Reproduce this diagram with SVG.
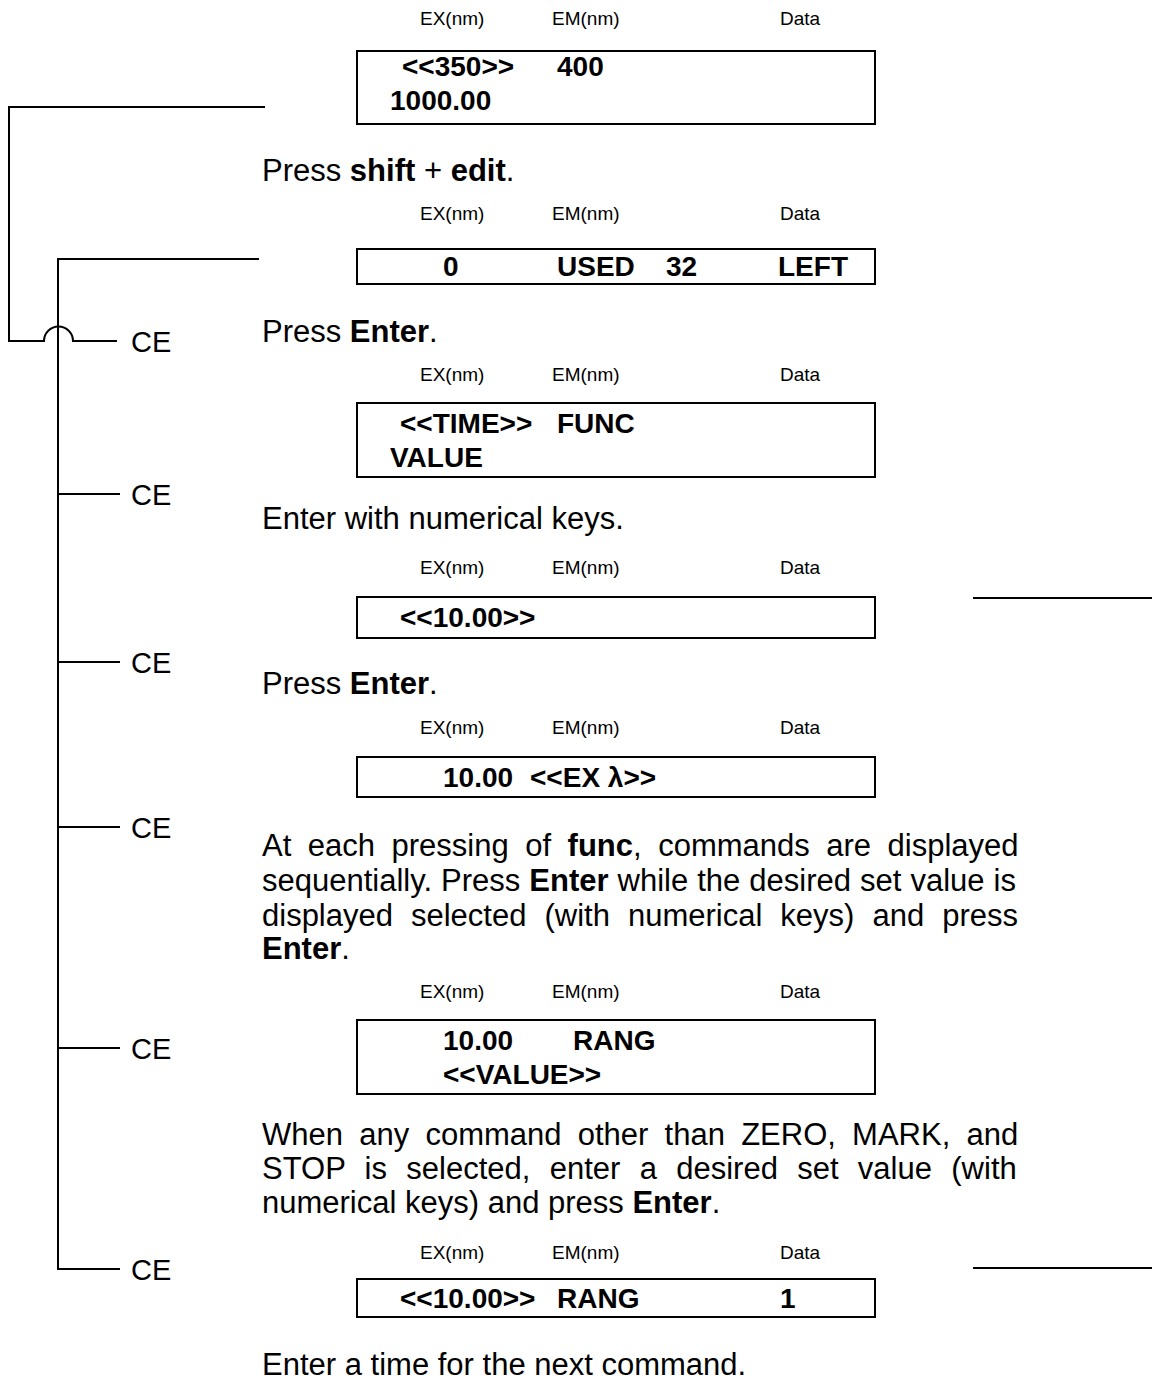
<svg xmlns="http://www.w3.org/2000/svg" width="1152" height="1380" viewBox="0 0 1152 1380">
<style>
.hd{font-family:"Liberation Sans",Arial,sans-serif;font-size:19px;fill:#000}
.bx{font-family:"Liberation Sans",Arial,sans-serif;font-size:28px;font-weight:bold;fill:#000}
.tx{font-family:"Liberation Sans",Arial,sans-serif;font-size:31px;fill:#000}
.ce{font-family:"Liberation Sans",Arial,sans-serif;font-size:29px;fill:#000}
.b{font-weight:bold}
.box{fill:none;stroke:#000;stroke-width:2}
.ln{fill:none;stroke:#000;stroke-width:2}
</style>
<rect width="1152" height="1380" fill="#fff"/>
<g id="connectors">
<path class="ln" d="M265,107 H9 V341 H44 A14.5,14.5 0 0 1 73,341 H117"/>
<path class="ln" d="M259,259 H58 V1270"/>
<path class="ln" d="M58,494 H120"/>
<path class="ln" d="M58,662 H120"/>
<path class="ln" d="M58,827 H120"/>
<path class="ln" d="M58,1048 H120"/>
<path class="ln" d="M58,1269 H120"/>
<path class="ln" d="M973,598 H1152"/>
<path class="ln" d="M973,1268 H1152"/>
</g>
<g id="ce-labels">
<text class="ce" x="131" y="352">CE</text>
<text class="ce" x="131" y="505">CE</text>
<text class="ce" x="131" y="673">CE</text>
<text class="ce" x="131" y="838">CE</text>
<text class="ce" x="131" y="1059">CE</text>
<text class="ce" x="131" y="1280">CE</text>
</g>
<g id="screen1">
<text class="hd" x="420" y="25">EX(nm)</text><text class="hd" x="552" y="25">EM(nm)</text><text class="hd" x="780" y="25">Data</text>
<rect class="box" x="357" y="51" width="518" height="73"/>
<text class="bx" x="402" y="76">&lt;&lt;350&gt;&gt;</text><text class="bx" x="557" y="76">400</text>
<text class="bx" x="390" y="110">1000.00</text>
</g>
<g id="step1"><text class="tx" x="262" y="181">Press <tspan class="b">shift</tspan> + <tspan class="b">edit</tspan>.</text></g>
<g id="screen2">
<text class="hd" x="420" y="220">EX(nm)</text><text class="hd" x="552" y="220">EM(nm)</text><text class="hd" x="780" y="220">Data</text>
<rect class="box" x="357" y="249" width="518" height="35"/>
<text class="bx" x="443" y="276">0</text><text class="bx" x="557" y="276">USED</text><text class="bx" x="666" y="276">32</text><text class="bx" x="778" y="276">LEFT</text>
</g>
<g id="step2"><text class="tx" x="262" y="342">Press <tspan class="b">Enter</tspan>.</text></g>
<g id="screen3">
<text class="hd" x="420" y="381">EX(nm)</text><text class="hd" x="552" y="381">EM(nm)</text><text class="hd" x="780" y="381">Data</text>
<rect class="box" x="357" y="403" width="518" height="74"/>
<text class="bx" x="400" y="433">&lt;&lt;TIME&gt;&gt;</text><text class="bx" x="557" y="433">FUNC</text>
<text class="bx" x="390" y="467">VALUE</text>
</g>
<g id="step3"><text class="tx" x="262" y="529">Enter with numerical keys.</text></g>
<g id="screen4">
<text class="hd" x="420" y="574">EX(nm)</text><text class="hd" x="552" y="574">EM(nm)</text><text class="hd" x="780" y="574">Data</text>
<rect class="box" x="357" y="597" width="518" height="41"/>
<text class="bx" x="400" y="627">&lt;&lt;10.00&gt;&gt;</text>
</g>
<g id="step4"><text class="tx" x="262" y="694">Press <tspan class="b">Enter</tspan>.</text></g>
<g id="screen5">
<text class="hd" x="420" y="734">EX(nm)</text><text class="hd" x="552" y="734">EM(nm)</text><text class="hd" x="780" y="734">Data</text>
<rect class="box" x="357" y="757" width="518" height="40"/>
<text class="bx" x="443" y="787">10.00</text><text class="bx" x="530" y="787">&lt;&lt;EX λ&gt;&gt;</text>
</g>
<g id="step5">
<text class="tx" x="262" y="856" word-spacing="7.9">At each pressing of <tspan class="b">func</tspan>, commands are displayed</text>
<text class="tx" x="262" y="891" word-spacing="0.4">sequentially. Press <tspan class="b">Enter</tspan> while the desired set value is</text>
<text class="tx" x="262" y="926" word-spacing="9.4">displayed selected (with numerical keys) and press</text>
<text class="tx" x="262" y="959"><tspan class="b">Enter</tspan>.</text>
</g>
<g id="screen6">
<text class="hd" x="420" y="998">EX(nm)</text><text class="hd" x="552" y="998">EM(nm)</text><text class="hd" x="780" y="998">Data</text>
<rect class="box" x="357" y="1020" width="518" height="74"/>
<text class="bx" x="443" y="1050">10.00</text><text class="bx" x="573" y="1050">RANG</text>
<text class="bx" x="443" y="1084">&lt;&lt;VALUE&gt;&gt;</text>
</g>
<g id="step6">
<text class="tx" x="262" y="1145" word-spacing="7.6">When any command other than ZERO, MARK, and</text>
<text class="tx" x="262" y="1179" word-spacing="10.7">STOP is selected, enter a desired set value (with</text>
<text class="tx" x="262" y="1213">numerical keys) and press <tspan class="b">Enter</tspan>.</text>
</g>
<g id="screen7">
<text class="hd" x="420" y="1259">EX(nm)</text><text class="hd" x="552" y="1259">EM(nm)</text><text class="hd" x="780" y="1259">Data</text>
<rect class="box" x="357" y="1279" width="518" height="38"/>
<text class="bx" x="400" y="1308">&lt;&lt;10.00&gt;&gt;</text><text class="bx" x="557" y="1308">RANG</text><text class="bx" x="780" y="1308">1</text>
</g>
<g id="step7"><text class="tx" x="262" y="1375">Enter a time for the next command.</text></g>
</svg>
